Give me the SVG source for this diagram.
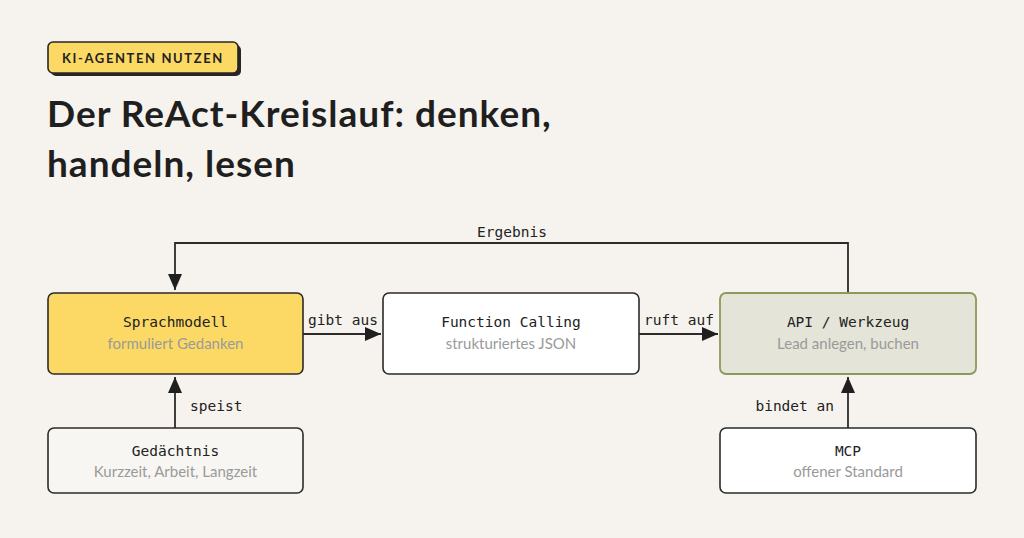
<svg xmlns="http://www.w3.org/2000/svg" width="1024" height="538" viewBox="0 0 1024 538">
<defs>
<marker id="ah" markerWidth="16" markerHeight="14" refX="16" refY="7" orient="auto" markerUnits="userSpaceOnUse">
<path d="M0,0 L16,7 L0,14 Z" fill="#1f1f1f"/>
</marker>
</defs>
<style>
.box{stroke:#2b2b2b;stroke-width:1.6}
.t{font-family:"DejaVu Sans Mono",monospace;font-size:14.5px;fill:#222;text-anchor:middle}
.s{font-family:Lato,"Noto Sans",sans-serif;font-size:15px;fill:#9a9a9a;text-anchor:middle}
.lbl{font-family:"DejaVu Sans Mono",monospace;font-size:14.5px;fill:#222}
.c{fill:none;stroke:#2b2b2b;stroke-width:1.8}
</style>
<rect width="1024" height="538" fill="#F6F3EE"/>
<g id="badge">
<rect x="51" y="45" width="190" height="31" rx="5" fill="#262626"/>
<rect x="48" y="42" width="190" height="31" rx="5" fill="#FCD965" stroke="#262626" stroke-width="1.6"/>
<text x="143" y="62.5" font-family="Lato,'Noto Sans',sans-serif" font-weight="700" font-size="13" letter-spacing="1.6" fill="#222" text-anchor="middle">KI-AGENTEN NUTZEN</text>
</g>
<g id="title" font-family="Lato,'Noto Sans',sans-serif" font-weight="700" font-size="37" letter-spacing="1" fill="#1f1f1f">
<text x="47" y="127">Der ReAct-Kreislauf: denken,</text>
<text x="47" y="177">handeln, lesen</text>
</g>
<g id="connectors">
<path class="c" d="M848,293 V243 H175 V290" marker-end="url(#ah)"/>
<text class="lbl" x="512" y="237" text-anchor="middle">Ergebnis</text>
<path class="c" d="M303,334 H381" marker-end="url(#ah)"/>
<text class="lbl" x="343" y="325" text-anchor="middle">gibt aus</text>
<path class="c" d="M639,334 H718" marker-end="url(#ah)"/>
<text class="lbl" x="679" y="325" text-anchor="middle">ruft auf</text>
<path class="c" d="M175,428 V377" marker-end="url(#ah)"/>
<text class="lbl" x="190" y="411">speist</text>
<path class="c" d="M848,428 V377" marker-end="url(#ah)"/>
<text class="lbl" x="834" y="411" text-anchor="end">bindet an</text>
</g>
<g id="sprachmodell">
<rect class="box" x="48" y="293" width="255" height="81" rx="6" fill="#FCD965"/>
<text class="t" x="175.5" y="327">Sprachmodell</text>
<text class="s" x="175.5" y="349">formuliert Gedanken</text>
</g>
<g id="function-calling">
<rect class="box" x="383" y="293" width="256" height="81" rx="6" fill="#FFFFFF"/>
<text class="t" x="511" y="327">Function Calling</text>
<text class="s" x="511" y="349">strukturiertes JSON</text>
</g>
<g id="api">
<rect x="720" y="293" width="256" height="81" rx="6" fill="#E4E4D8" stroke="#8A9A5B" stroke-width="1.8"/>
<text class="t" x="848" y="327">API / Werkzeug</text>
<text class="s" x="848" y="349">Lead anlegen, buchen</text>
</g>
<g id="gedaechtnis">
<rect class="box" x="48" y="428" width="255" height="65" rx="6" fill="#F8F6F2"/>
<text class="t" x="175.5" y="456">Gedächtnis</text>
<text class="s" x="175.5" y="477">Kurzzeit, Arbeit, Langzeit</text>
</g>
<g id="mcp">
<rect class="box" x="720" y="428" width="256" height="65" rx="6" fill="#FFFFFF"/>
<text class="t" x="848" y="456">MCP</text>
<text class="s" x="848" y="477">offener Standard</text>
</g>
</svg>
